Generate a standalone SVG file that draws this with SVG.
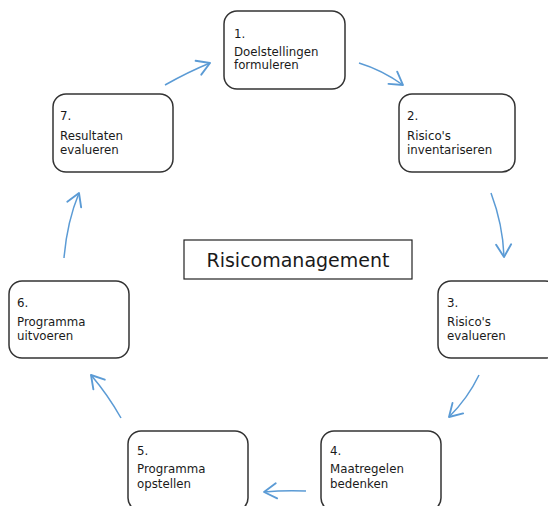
<svg xmlns="http://www.w3.org/2000/svg" width="548" height="506" viewBox="0 0 548 506">
  <style>
    .node rect { fill: #ffffff; stroke: #333333; stroke-width: 1.5; }
    .node text { font-family: "DejaVu Sans", Verdana, sans-serif; font-size: 11.8px; fill: #1a1a1a; }
    .conn path { fill: none; stroke: #5B9BD5; stroke-width: 1.5; marker-end: url(#arrow); }
    .title rect { fill: #ffffff; stroke: #222222; stroke-width: 1.2; }
    .title text { font-family: "DejaVu Sans", Verdana, sans-serif; font-size: 19px; fill: #1a1a1a; text-anchor: middle; }
  </style>
  <defs>
    <marker id="arrow" markerUnits="userSpaceOnUse" markerWidth="20" markerHeight="20" viewBox="-12 -8 14 16" refX="0" refY="0" orient="auto">
      <path d="M-10,-6 L0,0 L-10,6" fill="none" stroke="#5B9BD5" stroke-width="1.5" stroke-linecap="round" stroke-linejoin="round"/>
    </marker>
  </defs>
  <rect width="548" height="506" fill="#ffffff"/>

  <g id="connectors" class="conn">
    <path d="M165,85 Q188,72 210,63"/>
    <path d="M359,63 Q382,70 403,85"/>
    <path d="M491,193 Q503,225 504,257"/>
    <path d="M479,375 Q468,398 449,417"/>
    <path d="M306,491 Q285,490 264,492"/>
    <path d="M121,418 Q108,395 91,375"/>
    <path d="M64,258 Q67,222 79,193"/>
  </g>

  <g id="node1" class="node">
    <rect x="224" y="11" width="121" height="78" rx="13"/>
    <text x="234" y="38">1.</text>
    <text x="234" y="56">Doelstellingen</text>
    <text x="234" y="69">formuleren</text>
  </g>
  <g id="node2" class="node">
    <rect x="399" y="94" width="116" height="78" rx="13"/>
    <text x="407" y="120">2.</text>
    <text x="407" y="140">Risico's</text>
    <text x="407" y="154">inventariseren</text>
  </g>
  <g id="node3" class="node">
    <rect x="438" y="281" width="120" height="77" rx="13"/>
    <text x="447" y="307">3.</text>
    <text x="447" y="326">Risico's</text>
    <text x="447" y="340">evalueren</text>
  </g>
  <g id="node4" class="node">
    <rect x="321" y="431" width="120" height="80" rx="13"/>
    <text x="330" y="455">4.</text>
    <text x="330" y="473">Maatregelen</text>
    <text x="330" y="488">bedenken</text>
  </g>
  <g id="node5" class="node">
    <rect x="128" y="431" width="120" height="80" rx="13"/>
    <text x="137" y="455">5.</text>
    <text x="137" y="473">Programma</text>
    <text x="137" y="488">opstellen</text>
  </g>
  <g id="node6" class="node">
    <rect x="9" y="281" width="120" height="77" rx="13"/>
    <text x="17" y="307">6.</text>
    <text x="17" y="326">Programma</text>
    <text x="17" y="340">uitvoeren</text>
  </g>
  <g id="node7" class="node">
    <rect x="53" y="94" width="120" height="78" rx="13"/>
    <text x="60" y="120">7.</text>
    <text x="60" y="140">Resultaten</text>
    <text x="60" y="154">evalueren</text>
  </g>

  <g id="center" class="title">
    <rect x="184" y="240" width="228" height="39"/>
    <text x="298" y="267">Risicomanagement</text>
  </g>
</svg>
